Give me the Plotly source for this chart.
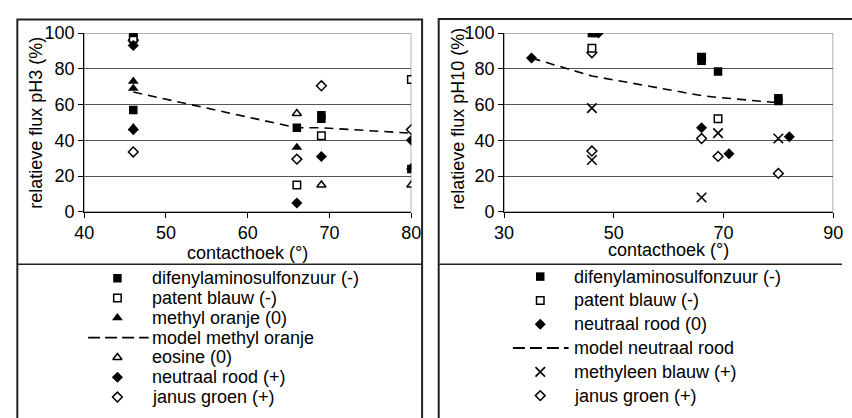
import plotly.graph_objects as go

W, H = 852, 418
FONT = "Liberation Sans, Arial, sans-serif"
FS = 18

# ---------------- data: pH3 (left panel) ----------------
ph3_difenyl_x = [46, 46, 66, 69, 69, 80]
ph3_difenyl_y = [100, 57, 47, 54, 52, 24]
ph3_patent_x = [46, 66, 69, 80]
ph3_patent_y = [97, 15, 42.5, 74]
ph3_methyl_x = [46, 46, 46, 66, 80]
ph3_methyl_y = [73, 69, 47, 36, 25]
ph3_model_x = [46, 66, 69, 80]
ph3_model_y = [67, 47, 47, 44]
ph3_eosine_x = [46, 66, 69, 80]
ph3_eosine_y = [97, 55, 15, 15]
ph3_neutraal_x = [46, 46, 66, 69, 80]
ph3_neutraal_y = [93, 46, 5, 31, 40]
ph3_janus_x = [46, 46, 66, 69, 80]
ph3_janus_y = [96, 33.5, 29.5, 70.5, 46]

# ---------------- data: pH10 (right panel) ----------------
ph10_difenyl_x = [46, 46.6, 66, 66, 69, 80, 80]
ph10_difenyl_y = [100, 100, 86, 84.5, 78.5, 63.5, 62]
ph10_patent_x = [46, 66, 69]
ph10_patent_y = [91.5, 86.5, 52]
ph10_neutraal_x = [35, 47.2, 66, 71, 82]
ph10_neutraal_y = [86, 100, 47, 32.5, 42]
ph10_model_x = [35, 46, 66, 69, 80]
ph10_model_y = [86, 76, 65, 64, 61]
ph10_methyleen_x = [46, 46, 66, 69, 80]
ph10_methyleen_y = [58, 29, 8, 44, 41]
ph10_janus_x = [46, 46, 66, 69, 80]
ph10_janus_y = [89, 34, 41, 31, 21.5]

left_labels = ["difenylaminosulfonzuur (-)", "patent blauw (-)", "methyl oranje (0)",
               "model methyl oranje", "eosine (0)", "neutraal rood (+)", "janus groen (+)"]
right_labels = ["difenylaminosulfonzuur (-)", "patent blauw (-)", "neutraal rood (0)",
                "model neutraal rood", "methyleen blauw (+)", "janus groen (+)"]

x_ticks_left = [40, 50, 60, 70, 80]
x_ticks_right = [30, 50, 70, 90]
y_ticks = [0, 20, 40, 60, 80, 100]

# ---------------- styles ----------------
STY = {
    "sq_f": dict(symbol="square", size=8.5, color="black", line=dict(width=0)),
    "sq_o": dict(symbol="square", size=7.5, color="white", line=dict(width=1.5, color="black")),
    "tri_f": dict(symbol="triangle-up", size=9.5, color="black", line=dict(width=0)),
    "tri_o": dict(symbol="triangle-up", size=8, color="white", line=dict(width=1.5, color="black")),
    "dia_f": dict(symbol="diamond", size=8.5, color="black", line=dict(width=0)),
    "dia_o": dict(symbol="diamond", size=7.5, color="white", line=dict(width=1.5, color="black")),
    "x": dict(symbol="x-thin", size=9.5, color="black", line=dict(width=1.6, color="black")),
}
DASH_PLOT = dict(color="black", width=1.6, dash="9px,6px")


def px_x(p):
    return p / W


def px_y(p):
    return 1 - p / H


fig = go.Figure()


def pts(x, y, sty, xa, ya):
    fig.add_trace(go.Scatter(x=x, y=y, mode="markers", marker=STY[sty],
                             xaxis=xa, yaxis=ya, showlegend=False, hoverinfo="skip"))


def line(x, y, xa, ya):
    fig.add_trace(go.Scatter(x=x, y=y, mode="lines", line=DASH_PLOT,
                             xaxis=xa, yaxis=ya, showlegend=False, hoverinfo="skip"))


# left
line(ph3_model_x, ph3_model_y, "x", "y")
pts(ph3_janus_x, ph3_janus_y, "dia_o", "x", "y")
pts(ph3_eosine_x, ph3_eosine_y, "tri_o", "x", "y")
pts(ph3_patent_x, ph3_patent_y, "sq_o", "x", "y")
pts(ph3_neutraal_x, ph3_neutraal_y, "dia_f", "x", "y")
pts(ph3_methyl_x, ph3_methyl_y, "tri_f", "x", "y")
pts(ph3_difenyl_x, ph3_difenyl_y, "sq_f", "x", "y")
# right
line(ph10_model_x, ph10_model_y, "x2", "y2")
pts(ph10_janus_x, ph10_janus_y, "dia_o", "x2", "y2")
pts(ph10_methyleen_x, ph10_methyleen_y, "x", "x2", "y2")
pts(ph10_patent_x, ph10_patent_y, "sq_o", "x2", "y2")
pts(ph10_neutraal_x, ph10_neutraal_y, "dia_f", "x2", "y2")
pts(ph10_difenyl_x, ph10_difenyl_y, "sq_f", "x2", "y2")

# ---------------- legends (drawn on a pixel overlay axis) ----------------
annotations = []


def legend(labels, kinds, sym_x, txt_x, dash_x0, dash_x1, y0, dy):
    for i, (lab, kind) in enumerate(zip(labels, kinds)):
        yy = y0 + i * dy
        if kind == "line":
            fig.add_trace(go.Scatter(x=[dash_x0, dash_x1], y=[yy, yy], mode="lines",
                                     line=dict(color="black", width=1.8, dash="12px,5px"),
                                     xaxis="x3", yaxis="y3", showlegend=False, hoverinfo="skip"))
        else:
            fig.add_trace(go.Scatter(x=[sym_x], y=[yy], mode="markers", marker=STY[kind],
                                     xaxis="x3", yaxis="y3", showlegend=False, hoverinfo="skip"))
        annotations.append(dict(x=px_x(txt_x), y=px_y(yy), xref="paper", yref="paper",
                                text=lab, showarrow=False, xanchor="left", yanchor="middle",
                                font=dict(family=FONT, size=FS, color="black")))


legend(left_labels, ["sq_f", "sq_o", "tri_f", "line", "tri_o", "dia_f", "dia_o"],
       110, 143, 80, 142, 281.7, 20.8)
legend(right_labels, ["sq_f", "sq_o", "dia_f", "line", "x", "dia_o"],
       543, 575, 515, 572, 280, 25)

# axis titles
for cx, cy in [(243.5, 255), (674.5, 252)]:
    annotations.append(dict(x=px_x(cx), y=px_y(cy), xref="paper", yref="paper",
                            text="contacthoek (°)", showarrow=False,
                            xanchor="center", yanchor="middle",
                            font=dict(family=FONT, size=FS, color="black")))
for cx, cy, txt in [(27, 118, "relatieve flux pH3 (%)"), (458, 114, "relatieve flux pH10 (%)")]:
    annotations.append(dict(x=px_x(cx), y=px_y(cy), xref="paper", yref="paper",
                            text=txt, showarrow=False, textangle=-90,
                            xanchor="center", yanchor="middle",
                            font=dict(family=FONT, size=FS, color="black")))

# ---------------- shapes: panel boxes, separators, plot borders ----------------
BOX = dict(color="#222222", width=2)
shapes = [
    dict(type="rect", xref="paper", yref="paper", x0=px_x(7.5), x1=px_x(422),
         y0=px_y(10), y1=px_y(430), line=BOX, layer="above"),
    dict(type="rect", xref="paper", yref="paper", x0=px_x(439), x1=px_x(870),
         y0=px_y(9.5), y1=px_y(430), line=BOX, layer="above"),
    dict(type="line", xref="paper", yref="paper", x0=px_x(7.5), x1=px_x(422),
         y0=px_y(267), y1=px_y(267), line=dict(color="#222222", width=1.5)),
    dict(type="line", xref="paper", yref="paper", x0=px_x(439), x1=px_x(852),
         y0=px_y(267), y1=px_y(267), line=dict(color="#222222", width=1.5)),
    dict(type="rect", xref="x", yref="y", x0=40, x1=80, y0=0, y1=100,
         line=dict(color="#999999", width=1.5), layer="below"),
    dict(type="rect", xref="x2", yref="y2", x0=30, x1=90, y0=0, y1=100,
         line=dict(color="#999999", width=1.5), layer="below"),
]

tickfont = dict(family=FONT, size=FS, color="black")
common_x = dict(showline=True, linecolor="black", linewidth=1, ticks="outside", ticklen=5,
                tickcolor="black", showgrid=False, zeroline=False, tickfont=tickfont)
common_y = dict(showline=True, linecolor="black", linewidth=1, ticks="outside", ticklen=5,
                tickcolor="black", showgrid=True, gridcolor="#555555", gridwidth=1,
                zeroline=False, tickfont=tickfont, range=[0, 100], tickvals=y_ticks)

ydom = [px_y(212), px_y(24.2)]
fig.update_layout(
    width=W, height=H, margin=dict(l=0, r=0, t=0, b=0),
    paper_bgcolor="white", plot_bgcolor="rgba(0,0,0,0)",
    font=dict(family=FONT, size=FS, color="black"),
    xaxis=dict(domain=[px_x(76), px_x(411)], range=[40, 80], tickvals=x_ticks_left,
               anchor="y", **common_x),
    yaxis=dict(domain=ydom, anchor="x", **common_y),
    xaxis2=dict(domain=[px_x(506), px_x(843)], range=[30, 90], tickvals=x_ticks_right,
                anchor="y2", **common_x),
    yaxis2=dict(domain=ydom, anchor="x2", **common_y),
    xaxis3=dict(domain=[0, 1], range=[0, W], visible=False, anchor="y3", fixedrange=True),
    yaxis3=dict(domain=[0, 1], range=[H, 0], visible=False, anchor="x3", fixedrange=True),
    shapes=shapes, annotations=annotations, showlegend=False,
)

fig.write_html("out.html")
